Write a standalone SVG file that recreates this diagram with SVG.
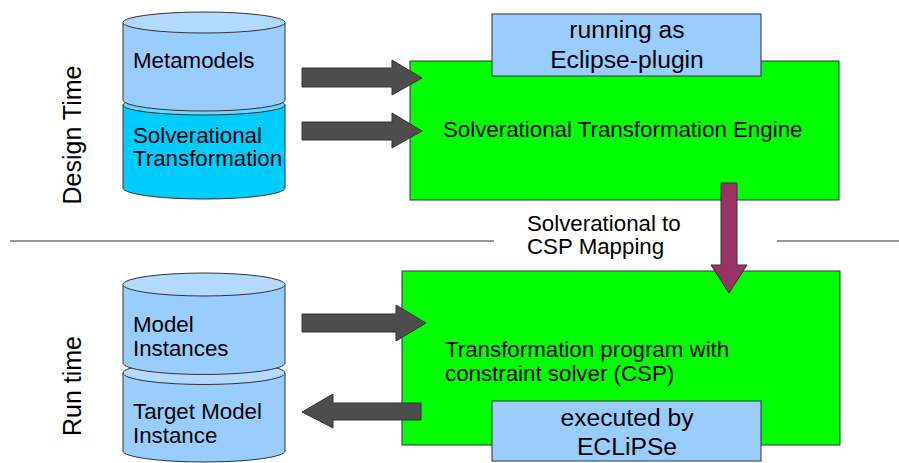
<svg xmlns="http://www.w3.org/2000/svg" width="899" height="463" viewBox="0 0 899 463">
<style>
text{font-family:"Liberation Sans",Arial,sans-serif;font-size:22.3px;fill:#000}
.edge{stroke:#333;stroke-width:1}
.cylA{fill:#99ccff}
.cylAtop{fill:#b3d9ff}
.cylB{fill:#00ccff}
.cylBtop{fill:#66d9ff}
.green{fill:#00ff00;stroke:#333;stroke-width:1}
.label{fill:#99ccff;stroke:#333;stroke-width:1}
.arrow{fill:#4d4d4d;stroke:#333;stroke-width:1}
.purple{fill:#993366;stroke:#333;stroke-width:1}
.sep{stroke:#333;stroke-width:1}
.big{font-size:24.7px}
.side{font-size:25px}
</style>
<rect width="899" height="463" fill="#fff"/>
<g id="labels-side">
<text class="side" transform="translate(81,135) rotate(-90)" text-anchor="middle">Design Time</text>
<text class="side" transform="translate(81,386) rotate(-90)" text-anchor="middle">Run time</text>
</g>
<g id="separators">
<line class="sep" x1="10" y1="241" x2="494" y2="241"/>
<line class="sep" x1="777" y1="241" x2="899" y2="241"/>
</g>
<g id="cyl-solverational">
<path class="cylB edge" d="M123,105 L123,188 A81,11 0 0 0 285,188 L285,105 Z"/>
<ellipse class="cylBtop edge" cx="204" cy="105" rx="81" ry="10"/>
<text x="133" y="143">Solverational</text>
<text x="133" y="166">Transformation</text>
</g>
<g id="cyl-metamodels">
<path class="cylA edge" d="M123,22.5 L123,100 A81,11 0 0 0 285,100 L285,22.5 Z"/>
<ellipse class="cylAtop edge" cx="204" cy="22.5" rx="81" ry="10.5"/>
<text x="133" y="68">Metamodels</text>
</g>
<g id="cyl-target">
<path class="cylA edge" d="M123,373 L123,451 A81,11 0 0 0 285,451 L285,373 Z"/>
<ellipse class="cylAtop edge" cx="204" cy="373" rx="81" ry="11.5"/>
<text x="133" y="419">Target Model</text>
<text x="133" y="443">Instance</text>
</g>
<g id="cyl-model">
<path class="cylA edge" d="M123,284.5 L123,363 A81,11.5 0 0 0 285,363 L285,284.5 Z"/>
<ellipse class="cylAtop edge" cx="204" cy="284.5" rx="81" ry="11.5"/>
<text x="133" y="332">Model</text>
<text x="133" y="356">Instances</text>
</g>
<g id="engine">
<rect class="green" x="410" y="61" width="429" height="139"/>
<text x="443" y="137">Solverational Transformation Engine</text>
</g>
<g id="plugin">
<rect class="label" x="492" y="14" width="269" height="62"/>
<text class="big" x="627" y="38" text-anchor="middle">running as</text>
<text class="big" x="627" y="68" text-anchor="middle">Eclipse-plugin</text>
</g>
<g id="program">
<rect class="green" x="402" y="271" width="438" height="174"/>
<text x="445" y="357">Transformation program with</text>
<text x="445" y="381">constraint solver (CSP)</text>
</g>
<g id="eclipse">
<rect class="label" x="492" y="401" width="269" height="60"/>
<text class="big" x="627" y="426" text-anchor="middle">executed by</text>
<text class="big" x="627" y="455" text-anchor="middle">ECLiPSe</text>
</g>
<g id="connectors">
<polygon class="arrow" points="302,68 392,68 392,60 422,78 392,95 392,87 302,87"/>
<polygon class="arrow" points="302,122 392,122 392,113 422,131 392,148 392,140 302,140"/>
<polygon class="arrow" points="302,314 396,314 396,305 426,323 396,341 396,332 302,332"/>
<polygon class="arrow" points="421,403 333,403 333,394 302,412 333,428 333,420 421,420"/>
<polygon class="purple" points="721,183 737,183 737,265 747,265 729,293 711,265 721,265"/>
<text x="527" y="231">Solverational to</text>
<text x="527" y="254">CSP Mapping</text>
</g>
</svg>
